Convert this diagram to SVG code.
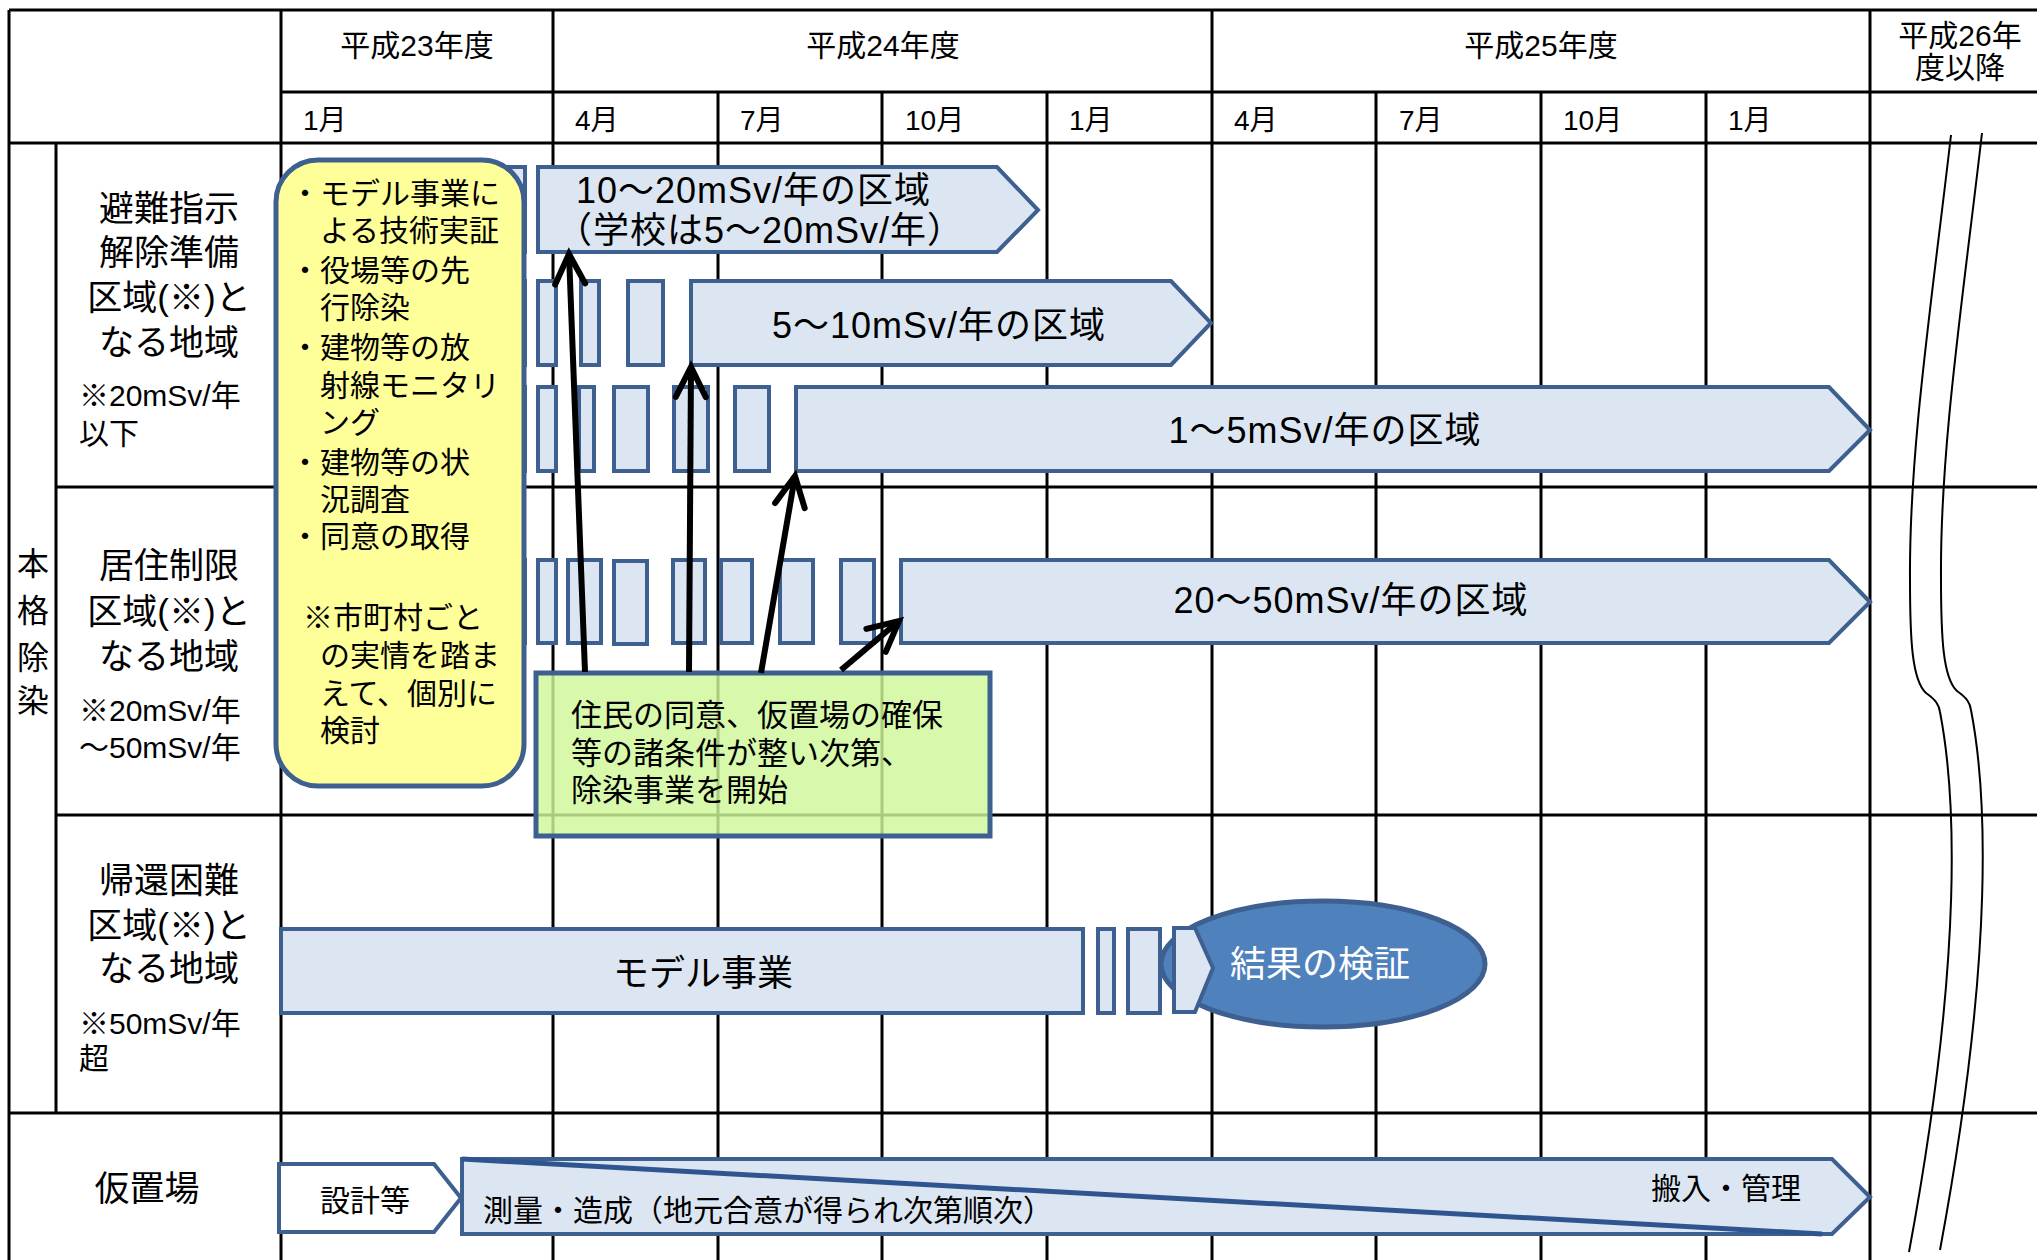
<svg xmlns="http://www.w3.org/2000/svg" width="2037" height="1260" viewBox="0 0 2037 1260">
<defs>
<style>
text{font-family:"Liberation Sans","Noto Sans CJK JP",sans-serif;fill:#000}
.g{stroke:#000;stroke-width:3;fill:none}
.brk{stroke:#000;stroke-width:2;fill:none}
.bar{fill:#dce6f2;stroke:#3d6090;stroke-width:4;stroke-linejoin:miter}
.hd{font-size:30px;text-anchor:middle}
.mo{font-size:28px}
.lb{font-size:35px;text-anchor:middle}
.sm{font-size:30px}
.bt{font-size:36px;letter-spacing:1px}
.yt{font-size:30px}
.arw{stroke:#000;stroke-width:6;fill:none;marker-end:url(#ah)}
</style>
<marker id="ah" markerUnits="userSpaceOnUse" markerWidth="44" markerHeight="44" viewBox="0 0 44 44" refX="36" refY="22" orient="auto">
<path d="M6,7 L36,22 L6,37" fill="none" stroke="#000" stroke-width="6" stroke-linecap="round" stroke-linejoin="miter"/>
</marker>
</defs>
<rect width="2037" height="1260" fill="#fff"/>
<g id="grid">
<path class="g" d="M9,10H2037 M281,92H2037 M9,143H2037 M56,487H2037 M56,815H2037 M9,1113H2037"/>
<path class="g" d="M9,10V1260 M56,143V1113 M281,10V1260 M553,10V1260 M1212,10V1260 M1870,10V1260"/>
<path class="g" d="M718,92V1260 M882,92V1260 M1047,92V1260 M1376,92V1260 M1541,92V1260 M1706,92V1260"/>
<path class="brk" d="M1951,135 C1932,300 1909,450 1910,580 C1910,640 1912,680 1926,693 C1936,700 1939,705 1940,712 C1955,790 1965,950 1909,1252"/>
<path class="brk" transform="translate(31,-2)" d="M1951,135 C1932,300 1909,450 1910,580 C1910,640 1912,680 1926,693 C1936,700 1939,705 1940,712 C1955,790 1965,950 1909,1252"/>
</g>
<g id="headers">
<text class="hd" x="417" y="56">平成23年度</text>
<text class="hd" x="883" y="56">平成24年度</text>
<text class="hd" x="1541" y="56">平成25年度</text>
<text class="hd" x="1960" y="46">平成26年</text>
<text class="hd" x="1960" y="78">度以降</text>
<text class="mo" x="303" y="130">1月</text>
<text class="mo" x="575" y="130">4月</text>
<text class="mo" x="740" y="130">7月</text>
<text class="mo" x="905" y="130">10月</text>
<text class="mo" x="1069" y="130">1月</text>
<text class="mo" x="1234" y="130">4月</text>
<text class="mo" x="1399" y="130">7月</text>
<text class="mo" x="1563" y="130">10月</text>
<text class="mo" x="1728" y="130">1月</text>
</g>
<g id="row-labels">
<text font-size="32" text-anchor="middle"><tspan x="33" y="575">本</tspan><tspan x="33" y="622">格</tspan><tspan x="33" y="669">除</tspan><tspan x="33" y="712">染</tspan></text>
<text class="lb" x="169" y="221">避難指示</text>
<text class="lb" x="169" y="265">解除準備</text>
<text class="lb" x="169" y="310">区域(※)と</text>
<text class="lb" x="169" y="355">なる地域</text>
<text class="sm" x="79" y="406">※20mSv/年</text>
<text class="sm" x="79" y="444">以下</text>
<text class="lb" x="169" y="578">居住制限</text>
<text class="lb" x="169" y="624">区域(※)と</text>
<text class="lb" x="169" y="669">なる地域</text>
<text class="sm" x="79" y="721">※20mSv/年</text>
<text class="sm" x="79" y="758">～50mSv/年</text>
<text class="lb" x="169" y="893">帰還困難</text>
<text class="lb" x="169" y="938">区域(※)と</text>
<text class="lb" x="169" y="981">なる地域</text>
<text class="sm" x="79" y="1034">※50mSv/年</text>
<text class="sm" x="79" y="1069">超</text>
<text class="lb" x="147" y="1201">仮置場</text>
</g>
<g id="hidden-bars">
<rect class="bar" x="470" y="167" width="55" height="85"/>
<rect class="bar" x="470" y="281" width="55" height="84"/>
<rect class="bar" x="470" y="387" width="55" height="84"/>
<rect class="bar" x="470" y="560" width="55" height="83"/>
</g>
<g id="bar-10-20">
<polygon class="bar" points="538,167 997,167 1038,210 997,252 538,252"/>
<text class="bt" x="576" y="203">10～20mSv/年の区域</text>
<text class="bt" x="556" y="243">（学校は5～20mSv/年）</text>
</g>
<g id="bar-5-10">
<rect class="bar" x="538" y="281" width="18" height="84"/>
<rect class="bar" x="581" y="281" width="18" height="84"/>
<rect class="bar" x="628" y="281" width="35" height="84"/>
<polygon class="bar" points="691,281 1171,281 1211,323 1171,365 691,365"/>
<text class="bt" x="939" y="338" text-anchor="middle">5～10mSv/年の区域</text>
</g>
<g id="bar-1-5">
<rect class="bar" x="538" y="387" width="18" height="84"/>
<rect class="bar" x="579" y="387" width="15" height="84"/>
<rect class="bar" x="614" y="387" width="34" height="84"/>
<rect class="bar" x="674" y="387" width="34" height="84"/>
<rect class="bar" x="735" y="387" width="34" height="84"/>
<polygon class="bar" points="796,387 1829,387 1870,430 1829,471 796,471"/>
<text class="bt" x="1325" y="443" text-anchor="middle">1～5mSv/年の区域</text>
</g>
<g id="bar-20-50">
<rect class="bar" x="538" y="560" width="18" height="83"/>
<rect class="bar" x="568" y="560" width="33" height="83"/>
<rect class="bar" x="614" y="561" width="33" height="83"/>
<rect class="bar" x="673" y="560" width="32" height="83"/>
<rect class="bar" x="721" y="560" width="31" height="83"/>
<rect class="bar" x="780" y="560" width="33" height="83"/>
<rect class="bar" x="841" y="560" width="33" height="83"/>
<polygon class="bar" points="901,560 1829,560 1870,602 1829,643 901,643"/>
<text class="bt" x="1351" y="613" text-anchor="middle">20～50mSv/年の区域</text>
</g>
<g id="model-project">
<rect class="bar" x="281" y="929" width="802" height="84"/>
<text x="703" y="986" font-size="36" text-anchor="middle">モデル事業</text>
<rect class="bar" x="1098" y="929" width="16" height="84"/>
<rect class="bar" x="1128" y="929" width="32" height="84"/>
</g>
<g id="verification">
<ellipse cx="1323" cy="964" rx="162" ry="63" fill="#4f81bd" stroke="#3d6090" stroke-width="5"/>
<polygon class="bar" points="1174,928 1195,928 1213,968 1195,1012 1174,1012"/>
<text x="1320" y="977" font-size="36" text-anchor="middle" style="fill:#fff">結果の検証</text>
</g>
<g id="design">
<polygon points="279,1164 434,1164 461,1198 434,1232 279,1232" fill="#fff" stroke="#3d6090" stroke-width="4"/>
<text x="365" y="1211" font-size="30" text-anchor="middle">設計等</text>
</g>
<g id="survey">
<polygon class="bar" points="462,1159 1832,1159 1870,1197 1832,1234 462,1234"/>
<line x1="462" y1="1159" x2="1822" y2="1234" stroke="#2f5590" stroke-width="5"/>
<text x="483" y="1221" font-size="30">測量・造成（地元合意が得られ次第順次）</text>
<text x="1801" y="1199" font-size="30" text-anchor="end">搬入・管理</text>
</g>
<g id="yellow-note">
<rect x="276" y="160" width="248" height="626" rx="42" ry="42" fill="#ffff99" stroke="#3d6090" stroke-width="5"/>
<text class="yt" y="204"><tspan x="290">・</tspan><tspan x="320">モデル事業に</tspan></text>
<text class="yt" x="320" y="241">よる技術実証</text>
<text class="yt" y="281"><tspan x="290">・</tspan><tspan x="320">役場等の先</tspan></text>
<text class="yt" x="320" y="318">行除染</text>
<text class="yt" y="358"><tspan x="290">・</tspan><tspan x="320">建物等の放</tspan></text>
<text class="yt" x="320" y="396">射線モニタリ</text>
<text class="yt" x="320" y="433">ング</text>
<text class="yt" y="473"><tspan x="290">・</tspan><tspan x="320">建物等の状</tspan></text>
<text class="yt" x="320" y="510">況調査</text>
<text class="yt" y="547"><tspan x="290">・</tspan><tspan x="320">同意の取得</tspan></text>
<text class="yt" x="303" y="628">※市町村ごと</text>
<text class="yt" x="320" y="666">の実情を踏ま</text>
<text class="yt" x="320" y="704">えて、個別に</text>
<text class="yt" x="320" y="741">検討</text>
</g>
<g id="green-note">
<rect x="536" y="673" width="454" height="163" fill="#d0f898" fill-opacity="0.82" stroke="#3d6090" stroke-width="5"/>
<text x="571" y="726" font-size="31">住民の同意、仮置場の確保</text>
<text x="571" y="764" font-size="31">等の諸条件が整い次第、</text>
<text x="571" y="801" font-size="31">除染事業を開始</text>
</g>
<g id="connectors">
<line class="arw" x1="585" y1="672" x2="569" y2="254"/>
<line class="arw" x1="689" y1="672" x2="691" y2="367"/>
<line class="arw" x1="761" y1="673" x2="795" y2="476"/>
<line class="arw" x1="841" y1="670" x2="899" y2="621"/>
</g>
</svg>
